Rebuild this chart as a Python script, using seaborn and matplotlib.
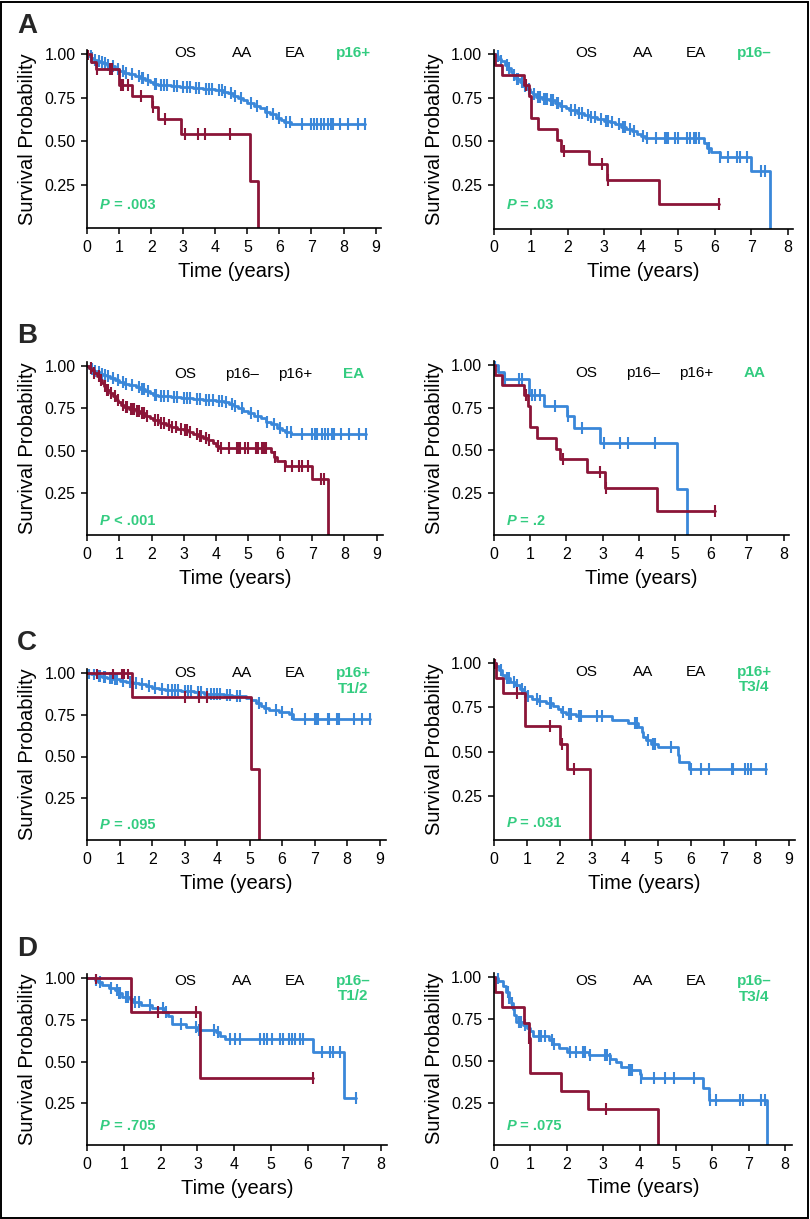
import numpy as np
import pandas as pd
import matplotlib
matplotlib.use("Agg")
import matplotlib.pyplot as plt
import seaborn as sns
from matplotlib.patches import Rectangle

sns.set_theme(style="ticks")
plt.rcParams["font.family"] = ["Liberation Sans", "DejaVu Sans"]

RED = "#8B1538"
BLUE = "#3A87D9"
GREEN = "#33CC80"

# ---------------- data (event times, survival after event, censor times) ----------------
# AA p16+
aa_pos_t = [0.10, 0.28, 0.98, 1.39, 2.03, 2.22, 2.92, 5.07, 5.32]
aa_pos_s = [0.958, 0.917, 0.823, 0.762, 0.700, 0.630, 0.540, 0.270, 0.0]
aa_pos_c = [0.03, 0.30, 0.70, 0.78, 1.04, 1.13, 1.26, 1.69, 2.05, 2.43, 3.04, 3.47, 3.69, 4.45]

# EA p16+
ea_pos_t = [0.05, 0.12, 0.20, 0.30, 0.40, 0.50, 0.60, 0.70, 0.85, 1.00, 1.15, 1.30, 1.50, 1.65,
            1.80, 1.95, 2.05, 2.20, 2.60, 2.90, 3.30, 3.60, 4.00, 4.25, 4.40, 4.55, 4.70, 4.85,
            5.00, 5.20, 5.40, 5.55, 5.70, 5.90, 6.05, 6.15, 6.35]
ea_pos_s = [0.990, 0.980, 0.970, 0.962, 0.955, 0.948, 0.940, 0.930, 0.915, 0.904, 0.895, 0.885,
            0.876, 0.865, 0.850, 0.838, 0.830, 0.824, 0.818, 0.812, 0.805, 0.800, 0.795, 0.785,
            0.775, 0.762, 0.750, 0.735, 0.720, 0.705, 0.690, 0.670, 0.655, 0.635, 0.622, 0.612, 0.600]
ea_pos_c = [0.10, 0.15, 0.25, 0.35, 0.45, 0.55, 0.65, 0.80, 0.95, 1.10, 1.20, 1.40, 1.60, 1.70,
            1.75, 1.90, 2.10, 2.15, 2.30, 2.40, 2.50, 2.70, 2.80, 3.00, 3.10, 3.20, 3.40, 3.50,
            3.70, 3.80, 3.90, 4.10, 4.20, 4.30, 4.50, 4.60, 4.80, 5.10, 5.30, 5.60, 5.80, 6.00,
            6.20, 6.33, 6.69, 7.00, 7.08, 7.16, 7.31, 7.40, 7.50, 7.60, 7.68, 7.89, 8.15, 8.46, 8.67]

# AA p16-
aa_neg_t = [0.03, 0.22, 0.82, 0.95, 1.00, 1.20, 1.70, 1.83, 2.58, 3.07, 4.50]
aa_neg_s = [0.941, 0.882, 0.824, 0.762, 0.636, 0.573, 0.509, 0.446, 0.372, 0.279, 0.140]
aa_neg_c = [0.88, 1.90, 2.93, 3.09, 6.12]

# EA p16-
ea_neg_t = [0.05, 0.12, 0.20, 0.30, 0.38, 0.45, 0.52, 0.60, 0.70, 0.80, 0.90, 0.97, 1.05, 1.15,
            1.30, 1.50, 1.65, 1.80, 1.95, 2.05, 2.25, 2.45, 2.60, 2.80, 3.00, 3.15, 3.30, 3.45,
            3.60, 3.75, 3.90, 4.00, 4.10, 5.70, 5.80, 5.90, 6.14, 7.00, 7.50]
ea_neg_s = [0.990, 0.975, 0.960, 0.940, 0.920, 0.900, 0.880, 0.860, 0.840, 0.820, 0.800, 0.785,
            0.770, 0.755, 0.745, 0.735, 0.720, 0.703, 0.690, 0.680, 0.665, 0.650, 0.638, 0.630,
            0.620, 0.610, 0.598, 0.585, 0.572, 0.560, 0.545, 0.530, 0.518, 0.490, 0.465, 0.440,
            0.410, 0.330, 0.0]
ea_neg_c = [0.10, 0.20, 0.35, 0.42, 0.55, 0.62, 0.65, 0.75, 0.85, 0.95, 1.10, 1.20, 1.25, 1.35,
            1.40, 1.45, 1.55, 1.60, 1.70, 1.75, 1.85, 2.10, 2.20, 2.30, 2.40, 2.55, 2.65, 2.75,
            2.90, 3.05, 3.10, 3.20, 3.40, 3.50, 3.55, 3.70, 3.80, 4.06, 4.15, 4.40, 4.65, 4.70,
            4.74, 4.92, 5.00, 5.25, 5.32, 5.45, 5.50, 5.57, 5.85, 6.14, 6.37, 6.60, 6.69, 6.87,
            7.27, 7.36]

# AA p16+ T1/2
aa_pos12_t = [1.38, 5.05, 5.30]
aa_pos12_s = [0.857, 0.428, 0.0]
aa_pos12_c = [0.29, 0.80, 1.06, 1.13, 1.24, 3.01, 3.45, 3.68]

# EA p16+ T1/2
ea_pos12_t = [0.10, 0.30, 0.45, 0.60, 0.80, 1.00, 1.20, 1.40, 1.60, 1.80, 2.00, 2.20, 2.40, 2.90,
              3.30, 3.60, 4.20, 4.45, 4.90, 5.05, 5.20, 5.35, 5.45, 5.60, 5.90, 6.20, 6.35]
ea_pos12_s = [0.995, 0.985, 0.978, 0.970, 0.962, 0.955, 0.948, 0.940, 0.932, 0.922, 0.912, 0.902,
              0.896, 0.890, 0.884, 0.876, 0.870, 0.862, 0.852, 0.838, 0.822, 0.805, 0.790, 0.778,
              0.765, 0.752, 0.725]
ea_pos12_c = [0.05, 0.20, 0.35, 0.40, 0.50, 0.55, 0.70, 0.75, 0.85, 0.90, 1.10, 1.30, 1.50, 1.70,
              1.90, 2.10, 2.30, 2.50, 2.60, 2.70, 2.80, 3.00, 3.10, 3.20, 3.40, 3.50, 3.70, 3.80,
              3.90, 4.00, 4.10, 4.30, 4.40, 4.60, 4.70, 5.30, 5.50, 5.80, 6.00, 6.30, 6.70, 7.00,
              7.05, 7.10, 7.40, 7.45, 7.70, 7.75, 8.20, 8.45, 8.70]

# AA p16+ T3/4
aa_pos34_t = [0.05, 0.28, 0.95, 2.00, 2.22, 2.93]
aa_pos34_s = [0.915, 0.830, 0.645, 0.543, 0.400, 0.0]
aa_pos34_c = [0.03, 0.70, 1.71, 2.06, 2.45]

# EA p16+ T3/4
ea_pos34_t = [0.05, 0.15, 0.25, 0.35, 0.50, 0.65, 0.80, 0.92, 1.00, 1.15, 1.35, 1.60, 1.80, 1.95,
              2.05, 2.20, 2.50, 3.60, 4.10, 4.40, 4.50, 4.55, 4.65, 4.80, 5.00, 5.60, 5.65, 5.95]
ea_pos34_s = [0.985, 0.960, 0.935, 0.915, 0.896, 0.875, 0.855, 0.835, 0.815, 0.800, 0.787, 0.775,
              0.760, 0.740, 0.725, 0.712, 0.700, 0.678, 0.662, 0.640, 0.610, 0.585, 0.565, 0.545,
              0.525, 0.480, 0.440, 0.400]
ea_pos34_c = [0.03, 0.20, 0.40, 0.45, 0.60, 0.70, 0.85, 0.95, 1.05, 1.30, 1.40, 1.70, 1.75, 2.10,
              2.30, 2.35, 2.60, 2.65, 3.15, 3.30, 4.30, 4.35, 4.70, 4.85, 4.90, 5.40, 6.00, 6.30,
              6.55, 7.25, 7.30, 7.65, 7.75, 7.85, 8.30]

# AA p16- T1/2
aa_neg12_t = [1.20, 3.08]
aa_neg12_s = [0.800, 0.400]
aa_neg12_c = [0.25, 1.92, 2.95, 6.15]

# EA p16- T1/2
ea_neg12_t = [0.20, 0.30, 0.40, 0.60, 0.75, 0.85, 0.95, 1.15, 1.25, 1.45, 1.75, 2.10, 2.20, 2.30,
              2.70, 3.00, 3.50, 3.62, 3.75, 6.15, 7.00]
ea_neg12_s = [0.990, 0.975, 0.960, 0.944, 0.930, 0.910, 0.890, 0.875, 0.860, 0.840, 0.820, 0.800,
              0.775, 0.727, 0.710, 0.690, 0.675, 0.655, 0.636, 0.560, 0.280]
ea_neg12_c = [0.25, 0.35, 0.65, 0.80, 0.85, 0.90, 1.05, 1.12, 1.30, 1.40, 1.70, 2.05, 2.15, 2.55,
              2.95, 3.05, 3.45, 3.55, 3.89, 4.02, 4.16, 4.70, 4.80, 4.89, 5.02, 5.25, 5.34, 5.48,
              5.57, 5.66, 5.79, 5.88, 6.39, 6.61, 6.70, 6.88, 7.32]

# AA p16- T3/4
aa_neg34_t = [0.03, 0.22, 0.82, 0.95, 0.98, 1.00, 1.85, 2.58, 4.50]
aa_neg34_s = [0.910, 0.817, 0.727, 0.636, 0.530, 0.424, 0.318, 0.212, 0.0]
aa_neg34_c = [0.96, 3.07]

# EA p16- T3/4
ea_neg34_t = [0.05, 0.12, 0.25, 0.32, 0.40, 0.47, 0.52, 0.55, 0.60, 0.80, 0.90, 1.00, 1.08, 1.50,
              1.62, 1.80, 2.00, 2.60, 3.20, 3.35, 3.50, 3.70, 4.00, 4.05, 5.75, 5.90, 7.50]
ea_neg34_s = [0.990, 0.975, 0.945, 0.910, 0.875, 0.845, 0.810, 0.770, 0.732, 0.710, 0.695, 0.678,
              0.645, 0.623, 0.600, 0.575, 0.550, 0.532, 0.510, 0.490, 0.465, 0.444, 0.420, 0.400,
              0.340, 0.267, 0.0]
ea_neg34_c = [0.10, 0.38, 0.42, 0.50, 0.68, 0.75, 0.85, 0.95, 1.25, 1.30, 1.40, 1.60, 1.65, 2.10,
              2.25, 2.45, 2.50, 2.65, 3.05, 3.10, 3.20, 3.70, 3.75, 3.80, 4.05, 4.40, 4.70, 4.95,
              5.50, 5.95, 6.10, 6.75, 6.85, 7.35, 7.45]

# header labels and p-values
headers = [["OS", "AA", "EA", "p16+"], ["OS", "AA", "EA", "p16\u2013"],
           ["OS", "p16\u2013", "p16+", "EA"], ["OS", "p16\u2013", "p16+", "AA"],
           ["OS", "AA", "EA", "p16+\nT1/2"], ["OS", "AA", "EA", "p16+\nT3/4"],
           ["OS", "AA", "EA", "p16\u2013\nT1/2"], ["OS", "AA", "EA", "p16\u2013\nT3/4"]]
pvals = ["= .003", "= .03", "< .001", "= .2", "= .095", "= .031", "= .705", "= .075"]
letters = ["A", "B", "C", "D"]

# ---------------- layout (pixels) ----------------
W, H = 810, 1219
fig = plt.figure(figsize=(W / 100, H / 100), dpi=100)

# (x0, x_end, y_zero, y_one, xmax, nticks, header_y, sub_y, p_y)
layout = [
    (87.3, 381.0, 228.3, 54.3, 9.17, 9, 1.005, None, 0.134),
    (494.0, 793.3, 228.6, 54.3, 8.14, 8, 1.005, None, 0.134),
    (87.3, 382.7, 535.3, 366.0, 9.19, 9, 0.955, None, 0.083),
    (494.0, 789.3, 535.3, 365.0, 8.16, 8, 0.955, None, 0.085),
    (87.3, 386.0, 840.0, 673.0, 9.20, 9, 1.0, 0.904, 0.090),
    (494.0, 795.0, 839.8, 663.3, 9.18, 9, 0.952, 0.864, 0.093),
    (87.3, 387.0, 1145.0, 978.3, 8.16, 8, 0.986, 0.894, 0.116),
    (494.0, 792.3, 1144.7, 976.7, 8.20, 8, 0.976, 0.881, 0.111),
]
hdr_off = {0: [97.7, 155.0, 207.7, 266.0], 1: [92.0, 149.3, 202.0, 260.3]}
YTOP = 1.025

curves = [
    [(ea_pos_t, ea_pos_s, ea_pos_c, BLUE), (aa_pos_t, aa_pos_s, aa_pos_c, RED)],
    [(ea_neg_t, ea_neg_s, ea_neg_c, BLUE), (aa_neg_t, aa_neg_s, aa_neg_c, RED)],
    [(ea_pos_t, ea_pos_s, ea_pos_c, BLUE), (ea_neg_t, ea_neg_s, ea_neg_c, RED)],
    [(aa_pos_t, aa_pos_s, aa_pos_c, BLUE), (aa_neg_t, aa_neg_s, aa_neg_c, RED)],
    [(ea_pos12_t, ea_pos12_s, ea_pos12_c, BLUE), (aa_pos12_t, aa_pos12_s, aa_pos12_c, RED)],
    [(ea_pos34_t, ea_pos34_s, ea_pos34_c, BLUE), (aa_pos34_t, aa_pos34_s, aa_pos34_c, RED)],
    [(ea_neg12_t, ea_neg12_s, ea_neg12_c, BLUE), (aa_neg12_t, aa_neg12_s, aa_neg12_c, RED)],
    [(ea_neg34_t, ea_neg34_s, ea_neg34_c, BLUE), (aa_neg34_t, aa_neg34_s, aa_neg34_c, RED)],
]


def km_frames(ev_t, ev_s, cens):
    t = np.concatenate([[0.0], ev_t])
    s = np.concatenate([[1.0], ev_s])
    end = max(t[-1], max(cens) if len(cens) else 0.0)
    line = pd.DataFrame({"time": np.append(t, end), "surv": np.append(s, s[-1])})
    idx = np.searchsorted(t, np.asarray(cens), side="right") - 1
    marks = pd.DataFrame({"time": cens, "surv": s[idx]})
    return line, marks


for i, (x0, x1, y0, y1, xmax, nt, hy, sy, py) in enumerate(layout):
    ytop_px = y1 - (YTOP - 1.0) * (y0 - y1)
    ax = fig.add_axes([x0 / W, 1 - y0 / H, (x1 - x0) / W, (y0 - ytop_px) / H])
    for ev_t, ev_s, cens, col in curves[i]:
        line, marks = km_frames(ev_t, ev_s, cens)
        sns.lineplot(data=line, x="time", y="surv", ax=ax, color=col, lw=2.0,
                     drawstyle="steps-post", estimator=None, sort=False)
        ax.plot(marks["time"], marks["surv"], ls="none", marker="|", ms=8, mew=1.5, color=col)
    ax.set_xlim(0, xmax)
    ax.set_ylim(0, YTOP)
    ax.set_xticks(range(0, nt + 1))
    ax.set_xticklabels([str(k) for k in range(0, nt + 1)])
    ax.set_yticks([0.25, 0.5, 0.75, 1.0])
    ax.set_yticklabels(["0.25", "0.50", "0.75", "1.00"])
    ax.tick_params(direction="out", length=4.5, width=1.1, labelsize=11.5, colors="black", pad=4)
    for sp in ("top", "right"):
        ax.spines[sp].set_visible(False)
    for sp in ("left", "bottom"):
        ax.spines[sp].set_linewidth(1.2)
        ax.spines[sp].set_color("black")
    ax.set_xlabel("Time (years)", fontsize=14.5, labelpad=5, color="black")
    ax.set_ylabel("Survival Probability", fontsize=14.5, labelpad=5, color="black")

    wpx = x1 - x0
    offs = hdr_off[i % 2]
    for j, lab in enumerate(headers[i]):
        xf = offs[j] / wpx
        if j < 3:
            ax.text(xf, hy, lab, transform=ax.get_yaxis_transform(), ha="center", va="center",
                    fontsize=11, color="black")
        else:
            parts = lab.split("\n")
            ax.text(xf, hy, parts[0], transform=ax.get_yaxis_transform(), ha="center",
                    va="center", fontsize=11, color=GREEN, fontweight="bold")
            if len(parts) > 1:
                ax.text(xf, sy, parts[1], transform=ax.get_yaxis_transform(), ha="center",
                        va="center", fontsize=11, color=GREEN, fontweight="bold")
    pt = ax.text(12.7 / wpx, py, "P", transform=ax.get_yaxis_transform(), ha="left",
                 va="center", fontsize=10.5, color=GREEN, fontweight="bold", style="italic")
    ax.annotate(" " + pvals[i], xy=(1, 0.5), xycoords=pt, ha="left", va="center",
                fontsize=10.5, color=GREEN, fontweight="bold")

letter_y = [26, 336, 643, 949]
for L, yy in zip(letters, letter_y):
    fig.text(17 / W, 1 - yy / H, L, fontsize=20, fontweight="bold", ha="left", va="center")

fig.patches.append(Rectangle((1.0 / W, 1.0 / H), (W - 3.0) / W, (H - 2.5) / H,
                             transform=fig.transFigure, fill=False, lw=1.4, ec="black"))

fig.savefig("out.png", dpi=100)
